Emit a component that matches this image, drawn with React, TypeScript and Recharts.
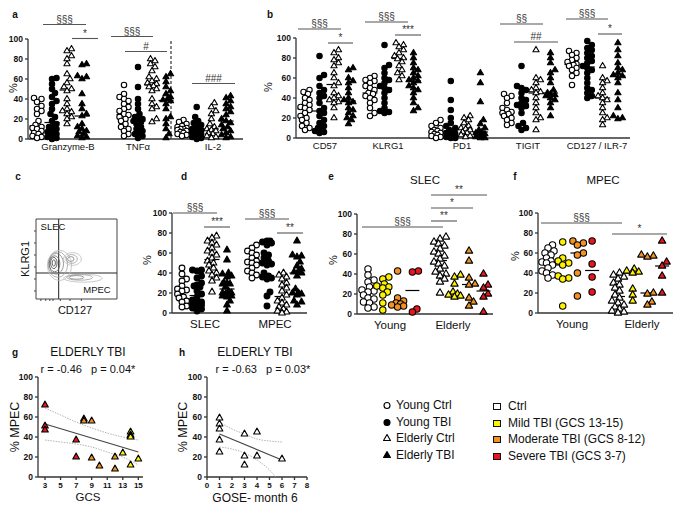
import React from "react";
import { ScatterChart, Scatter, XAxis, YAxis, ReferenceLine } from "recharts";

// ---------- panel a: Granzyme-B / TNFα / IL-2 (%), young ctrl, young TBI, elderly ctrl, elderly TBI
const gzmbYoungCtrl = [41, 40, 37, 33, 30, 28, 25, 18, 14, 12, 11, 10, 8, 6, 5, 3, 2, 1];
const gzmbYoungTbi = [61, 60, 55, 50, 46, 42, 38, 35, 30, 25, 22, 18, 15, 13, 12, 10, 8, 7, 5, 4, 3, 2, 1, 0];
const gzmbElderlyCtrl = [90, 88, 83, 80, 75, 65, 60, 56, 52, 50, 48, 40, 35, 30, 28, 27, 25, 22, 20, 15];
const gzmbElderlyTbi = [75, 74, 63, 62, 60, 45, 35, 30, 25, 23, 15, 12, 10, 8, 7, 5, 3, 2, 1];
const tnfYoungCtrl = [54, 45, 42, 40, 38, 35, 32, 30, 28, 25, 24, 22, 20, 18, 15, 12, 10, 8, 5, 3];
const tnfYoungTbi = [72, 52, 40, 35, 30, 25, 22, 20, 19, 18, 17, 15, 12, 10, 8, 6, 5, 3, 1];
const tnfElderlyCtrl = [80, 78, 75, 72, 68, 62, 60, 58, 56, 55, 53, 52, 50, 48, 40, 35, 32, 30, 20, 17];
const tnfElderlyTbi = [65, 62, 57, 52, 48, 45, 42, 40, 39, 38, 35, 30, 22, 20, 15, 10, 5, 1];
const il2YoungCtrl = [19, 17, 15, 13, 12, 11, 10, 10, 9, 8, 7, 6, 5, 4, 3];
const il2YoungTbi = [32, 22, 18, 16, 14, 12, 10, 9, 8, 7, 6, 5, 4, 3, 2, 1, 0];
const il2ElderlyCtrl = [36, 32, 28, 25, 20, 15, 12, 10, 9, 8, 6, 5, 3, 2, 1];
const il2ElderlyTbi = [43, 41, 38, 35, 32, 30, 27, 24, 20, 18, 16, 14, 12, 10, 8, 6, 4, 2, 1];

// ---------- panel b: surface markers (%)
const cd57YoungCtrl = [48, 46, 44, 40, 38, 35, 33, 31, 30, 28, 25, 22, 20, 18, 15, 12, 10, 8];
const cd57YoungTbi = [82, 63, 60, 52, 48, 45, 42, 40, 35, 30, 27, 25, 22, 18, 15, 12, 10, 8, 7, 6, 5];
const cd57ElderlyCtrl = [88, 85, 80, 78, 75, 72, 65, 60, 55, 52, 45, 42, 40, 38, 36, 35, 30, 20];
const cd57ElderlyTbi = [70, 68, 60, 57, 55, 50, 45, 40, 38, 36, 35, 30, 28, 25, 22, 20, 18, 14];
const klrg1YoungCtrl = [62, 60, 58, 57, 55, 52, 50, 48, 45, 44, 42, 40, 38, 35, 30, 25, 22];
const klrg1YoungTbi = [93, 73, 70, 65, 60, 58, 55, 52, 50, 48, 45, 40, 35, 30, 27, 26, 25];
const klrg1ElderlyCtrl = [95, 93, 91, 88, 85, 82, 80, 79, 76, 72, 68, 65, 62, 58];
const klrg1ElderlyTbi = [85, 80, 75, 70, 68, 65, 62, 60, 58, 57, 55, 52, 50, 48, 45, 40, 35, 30, 27];
const pd1YoungCtrl = [18, 15, 12, 10, 8, 7, 6, 5, 4, 3, 2, 1, 0];
const pd1YoungTbi = [57, 38, 28, 20, 15, 12, 10, 8, 6, 5, 4, 3, 2, 1, 0, 0];
const pd1ElderlyCtrl = [22, 20, 18, 15, 12, 10, 9, 8, 6, 5, 3, 2, 1];
const pd1ElderlyTbi = [65, 55, 36, 18, 14, 10, 8, 6, 5, 4, 3, 2, 1, 0, 0];
const tigitYoungCtrl = [44, 42, 40, 35, 30, 28, 26, 25, 24, 22, 20, 18, 15, 13];
const tigitYoungTbi = [72, 52, 50, 48, 45, 40, 38, 35, 33, 32, 30, 25, 15, 12, 10, 8];
const tigitElderlyCtrl = [88, 60, 58, 55, 50, 48, 46, 45, 40, 35, 30, 25, 20, 18, 8];
const tigitElderlyTbi = [85, 80, 75, 68, 65, 60, 55, 48, 45, 44, 43, 42, 40, 38, 35, 30, 22];
const cd127YoungCtrl = [87, 85, 83, 80, 78, 76, 74, 73, 72, 70, 68, 65, 62, 53];
const cd127YoungTbi = [97, 93, 90, 88, 85, 82, 80, 77, 75, 72, 70, 68, 65, 60, 55, 50, 48, 45, 42, 40];
const cd127ElderlyCtrl = [72, 60, 57, 55, 50, 45, 42, 40, 38, 35, 30, 25, 20, 18, 13];
const cd127ElderlyTbi = [95, 88, 82, 75, 70, 68, 65, 63, 62, 60, 55, 45, 38, 30, 22, 20, 19];

// ---------- panels d, e: SLEC (%)
const slecYoungCtrl = [45, 39, 34, 32, 27, 24, 23, 22, 19, 16, 15, 12, 11, 7, 6];
const slecYoungMild = [37, 35, 30, 28, 27, 26, 22, 19, 11, 4];
const slecYoungModerate = [43, 16, 13, 11, 10, 9, 8, 7];
const slecYoungSevere = [43, 42, 5, 2];
const slecElderlyCtrl = [77, 75, 72, 70, 68, 65, 62, 60, 58, 55, 52, 50, 48, 45, 42, 40, 38, 35, 32, 21];
const slecElderlyMild = [39, 37, 30, 22, 20, 19, 18, 17];
const slecElderlyModerate = [63, 53, 36, 30, 29, 16, 12, 8];
const slecElderlySevere = [40, 29, 26, 20, 17, 2];

// ---------- panels d, f: MPEC (%)
const mpecYoungCtrl = [68, 65, 62, 60, 58, 55, 52, 51, 50, 48, 45, 42, 40, 38, 35];
const mpecYoungMild = [71, 55, 52, 50, 48, 37, 35, 34, 7];
const mpecYoungModerate = [72, 70, 68, 60, 58, 40, 17];
const mpecYoungSevere = [72, 49, 36, 21];
const mpecElderlyCtrl = [40, 38, 36, 34, 30, 28, 25, 22, 18, 15, 12, 10, 8, 6, 4, 2, 1, 0];
const mpecElderlyMild = [44, 42, 41, 40, 24, 18, 12];
const mpecElderlyModerate = [58, 57, 56, 20, 19, 11, 8];
const mpecElderlySevere = [72, 51, 47, 37, 20];

// ---------- panel c: contour levels of the KLRG1 / CD127 plot (arbitrary units 0-100)
const flowGateX = 28;
const flowGateY = 32.5;
const flowContours = [
  { x: 29, y: 42, rx: 15, ry: 19, level: 1 },
  { x: 27, y: 43, rx: 12, ry: 16, level: 2 },
  { x: 25, y: 44, rx: 9, ry: 13, level: 3 },
  { x: 23, y: 44, rx: 6.5, ry: 10, level: 4 },
  { x: 22, y: 45, rx: 4, ry: 7, level: 5 },
  { x: 22, y: 45, rx: 2, ry: 4, level: 5 },
  { x: 45, y: 50, rx: 11, ry: 8, level: 1 },
  { x: 44, y: 50, rx: 7, ry: 5.5, level: 2 },
  { x: 43, y: 50, rx: 4, ry: 3, level: 3 },
  { x: 58, y: 26, rx: 24, ry: 5, level: 1 },
  { x: 54, y: 27, rx: 16, ry: 3.5, level: 2 },
  { x: 50, y: 27, rx: 9, ry: 2.2, level: 3 },
];

// ---------- panel g: elderly TBI, GCS vs %MPEC
const gcsScore = [3, 3, 3, 7, 7, 8, 8, 9, 9, 10, 12, 12, 13, 14, 14, 14, 14, 14, 15];
const gcsMpec = [72, 51, 47, 37, 20, 58, 56, 56, 19, 11, 20, 8, 24, 45, 42, 41, 40, 12, 18];
const gcsFitX = [3, 15];
const gcsFitY = [53, 25];
const gcsBandX = [3, 5, 7, 9, 11, 13, 15];
const gcsUpper = [69, 62, 55, 49, 44, 40, 37];
const gcsLower = [37, 35, 33, 30, 25, 20, 12];

// ---------- panel h: elderly TBI, GOSE month 6 vs %MPEC
const goseScore = [1, 1, 1, 1, 1, 3, 3, 3, 4, 4, 6];
const goseMpec = [59, 53, 48, 37, 25, 43, 21, 12, 45, 21, 18];
const goseFitX = [1, 6];
const goseFitY = [43, 17];
const goseUpperX = [1, 2, 3, 4, 5, 6];
const goseUpper = [55, 48, 43, 38, 36, 35];
const goseLowerX = [1, 2, 3, 4, 5, 5.5];
const goseLower = [30, 28, 24, 17, 7, 0];

const legendGroups = ["Young Ctrl", "Young TBI", "Elderly Ctrl", "Elderly TBI"];
const legendSeverity = ["Ctrl", "Mild TBI (GCS 13-15)", "Moderate TBI (GCS 8-12)", "Severe TBI (GCS 3-7)"];

const FONT = "Arial, 'Liberation Sans', Helvetica, sans-serif";
const AXIS = "#333";
const YELLOW = "#fff200";
const ORANGE = "#f39221";
const RED = "#e8161c";
const SEVERITY_FILLS = ["#ffffff", YELLOW, ORANGE, RED];

type Kind = "circle" | "triangle";
interface Column { x: number; values: number[]; kind: Kind; fill: string }
interface Sig { x1: number; x2: number; y: number; text: string }
interface Label { x: number; text: string }

const median = (v: number[]) => {
  const s = [...v].sort((a, b) => a - b);
  const m = Math.floor(s.length / 2);
  return s.length % 2 ? s[m] : (s[m - 1] + s[m]) / 2;
};

// simple beeswarm: horizontal offsets (px) so dots in one column don't pile up
function swarm(values: number[], yPx: number, dia: number, maxOff: number) {
  const order = values.map((_, i) => i).sort((a, b) => values[a] - values[b]);
  const placed: { x: number; y: number }[] = [];
  const out = new Array(values.length).fill(0);
  const cands = [0];
  for (let k = 1; k * 1.5 <= maxOff; k++) cands.push(k * 1.5, -k * 1.5);
  for (const i of order) {
    const y = values[i] * yPx;
    let best = 0;
    let bestD = -1;
    for (const c of cands) {
      const d = placed.length ? Math.min(...placed.map((p) => Math.hypot(p.x - c, p.y - y))) : Infinity;
      if (d >= dia) { best = c; break; }
      if (d > bestD) { bestD = d; best = c; }
    }
    out[i] = best;
    placed.push({ x: best, y });
  }
  return out;
}

function Marker({ cx, cy, kind, fill, r }: { cx: number; cy: number; kind: Kind; fill: string; r: number }) {
  if (kind === "circle") {
    return <circle cx={cx} cy={cy} r={r} fill={fill} stroke="#000" strokeWidth={1.1} />;
  }
  const s = r * 2.3;
  const h = s * 0.866;
  const pts = `${cx},${cy - (2 * h) / 3} ${cx + s / 2},${cy + h / 3} ${cx - s / 2},${cy + h / 3}`;
  return <polygon points={pts} fill={fill} stroke="#000" strokeWidth={1.1} strokeLinejoin="round" />;
}

const ageCols = (x0: number, step: number, sets: number[][]): Column[] => [
  { x: x0, values: sets[0], kind: "circle", fill: "#fff" },
  { x: x0 + step, values: sets[1], kind: "circle", fill: "#000" },
  { x: x0 + 2 * step, values: sets[2], kind: "triangle", fill: "#fff" },
  { x: x0 + 3 * step, values: sets[3], kind: "triangle", fill: "#000" },
];

const severityCols = (x0: number, step: number, kind: Kind, sets: number[][]): Column[] =>
  sets.map((values, i) => ({ x: x0 + i * step, values, kind, fill: SEVERITY_FILLS[i] }));

interface DotPanelProps {
  plot: [number, number, number, number];
  columns: Column[];
  labels: Label[];
  sigs: Sig[];
  r: number;
  spread: number;
  half: number;
  labelSize: number;
  labelGap: number;
  dashedX?: number;
}

function DotPanel({ plot, columns, labels, sigs, r, spread, half, labelSize, labelGap, dashedX }: DotPanelProps) {
  const [px, py, pw, ph] = plot;
  const yw = 26;
  const xh = 24;
  const margin = { left: 4, top: 40, right: 10, bottom: 4 };
  const width = pw + yw + margin.left + margin.right;
  const height = ph + margin.top + xh + margin.bottom;
  const yPx = ph / 100;
  return (
    <div style={{ position: "absolute", left: px - yw - margin.left, top: py - margin.top }}>
      <ScatterChart width={width} height={height} margin={margin}>
        <XAxis
          type="number"
          dataKey="x"
          domain={[0, pw]}
          ticks={labels.map((l) => l.x)}
          interval={0}
          tickFormatter={(v: number) => labels.find((l) => l.x === v)?.text ?? ""}
          tickLine={false}
          tickSize={0}
          tickMargin={labelGap}
          height={xh}
          axisLine={{ stroke: AXIS, strokeWidth: 1.3 }}
          tick={{ fontSize: labelSize, fill: "#111", fontFamily: FONT }}
        />
        <YAxis
          type="number"
          dataKey="y"
          domain={[0, 100]}
          ticks={[0, 20, 40, 60, 80, 100]}
          interval={0}
          width={yw}
          tickSize={3}
          tickMargin={2}
          axisLine={{ stroke: AXIS, strokeWidth: 1.3 }}
          tickLine={{ stroke: AXIS, strokeWidth: 1.3 }}
          tick={{ fontSize: 8.5, fontWeight: 700, fill: "#111", fontFamily: FONT }}
        />
        {dashedX !== undefined && (
          <ReferenceLine x={dashedX} stroke="#333" strokeWidth={1.2} strokeDasharray="3 2" />
        )}
        {columns.map((c, i) => {
          const off = swarm(c.values, yPx, r * 1.6, spread);
          const data = c.values.map((v, j) => ({ x: c.x + off[j], y: v }));
          return (
            <Scatter
              key={`c${i}`}
              data={data}
              isAnimationActive={false}
              shape={(p: any) => <Marker cx={p.cx} cy={p.cy} kind={c.kind} fill={c.fill} r={r} />}
            />
          );
        })}
        {columns.map((c, i) => {
          const m = median(c.values);
          return (
            <ReferenceLine
              key={`m${i}`}
              segment={[{ x: c.x - half, y: m }, { x: c.x + half, y: m }]}
              stroke="#000"
              strokeWidth={1.2}
              ifOverflow="visible"
            />
          );
        })}
        {sigs.map((s, i) => (
          <ReferenceLine
            key={`s${i}`}
            segment={[{ x: s.x1, y: s.y }, { x: s.x2, y: s.y }]}
            stroke="#555"
            strokeWidth={1.1}
            ifOverflow="visible"
            label={{ value: s.text, position: "top", offset: 2, fontSize: 10, fill: "#333", fontFamily: FONT }}
          />
        ))}
      </ScatterChart>
    </div>
  );
}

function FlowPanel() {
  const [px, py, pw, ph] = [36, 219, 81, 80];
  const margin = { left: 4, top: 4, right: 4, bottom: 2 };
  const yw = 6;
  const xh = 6;
  const kx = pw / 100;
  const ky = ph / 100;
  const strokes = ["#bdbdbd", "#a0a0a0", "#808080", "#606060", "#444"];
  return (
    <div style={{ position: "absolute", left: px - yw - margin.left, top: py - margin.top }}>
      <ScatterChart width={pw + yw + margin.left + margin.right} height={ph + xh + margin.top + margin.bottom} margin={margin}>
        <XAxis type="number" dataKey="x" domain={[0, 100]} ticks={[6, 12, 17, 21, 30, 42, 56]} interval={0}
          tickFormatter={() => ""} tickSize={2} height={xh}
          axisLine={{ stroke: "#444", strokeWidth: 1 }} tickLine={{ stroke: "#444", strokeWidth: 1 }} />
        <YAxis type="number" dataKey="y" domain={[0, 100]} ticks={[10, 25, 40, 55, 70, 85]} interval={0}
          tickFormatter={() => ""} tickSize={2} width={yw}
          axisLine={{ stroke: "#444", strokeWidth: 1 }} tickLine={{ stroke: "#444", strokeWidth: 1 }} />
        <ReferenceLine x={100} stroke="#444" strokeWidth={1} />
        <ReferenceLine y={100} stroke="#444" strokeWidth={1} />
        <Scatter
          data={flowContours}
          isAnimationActive={false}
          shape={(p: any) => (
            <ellipse cx={p.cx} cy={p.cy} rx={p.payload.rx * kx} ry={p.payload.ry * ky}
              fill="none" stroke={strokes[p.payload.level - 1]} strokeWidth={0.8} />
          )}
        />
        <ReferenceLine x={flowGateX} stroke="#222" strokeWidth={1} />
        <ReferenceLine y={flowGateY} stroke="#222" strokeWidth={1} />
      </ScatterChart>
    </div>
  );
}

interface CorrProps {
  plot: [number, number, number, number];
  xDomain: [number, number];
  xTicks: number[];
  xs: number[];
  ys: number[];
  fills: string[];
  fitX: number[];
  fitY: number[];
  upperX: number[];
  upper: number[];
  lowerX: number[];
  lower: number[];
}

function CorrPanel({ plot, xDomain, xTicks, xs, ys, fills, fitX, fitY, upperX, upper, lowerX, lower }: CorrProps) {
  const [px, py, pw, ph] = plot;
  const yw = 26;
  const xh = 16;
  const margin = { left: 4, top: 10, right: 10, bottom: 4 };
  const pts = xs.map((x, i) => ({ x, y: ys[i], fill: fills[i] }));
  const fit = fitX.map((x, i) => ({ x, y: fitY[i] }));
  const up = upperX.map((x, i) => ({ x, y: upper[i] }));
  const lo = lowerX.map((x, i) => ({ x, y: lower[i] }));
  const none = () => <g />;
  return (
    <div style={{ position: "absolute", left: px - yw - margin.left, top: py - margin.top }}>
      <ScatterChart width={pw + yw + margin.left + margin.right} height={ph + xh + margin.top + margin.bottom} margin={margin}>
        <XAxis type="number" dataKey="x" domain={xDomain} ticks={xTicks} interval={0} tickSize={3} tickMargin={2}
          height={xh} axisLine={{ stroke: AXIS, strokeWidth: 1.3 }} tickLine={{ stroke: AXIS, strokeWidth: 1.3 }}
          tick={{ fontSize: 8, fontWeight: 700, fill: "#111", fontFamily: FONT }} />
        <YAxis type="number" dataKey="y" domain={[0, 100]} ticks={[0, 20, 40, 60, 80, 100]} interval={0} width={yw}
          tickSize={3} tickMargin={2} axisLine={{ stroke: AXIS, strokeWidth: 1.3 }} tickLine={{ stroke: AXIS, strokeWidth: 1.3 }}
          tick={{ fontSize: 8.5, fontWeight: 700, fill: "#111", fontFamily: FONT }} />
        <Scatter data={up} isAnimationActive={false} line={{ stroke: "#aaa", strokeWidth: 0.9, strokeDasharray: "1.5 1.2" }}
          lineJointType="monotoneX" shape={none} />
        <Scatter data={lo} isAnimationActive={false} line={{ stroke: "#aaa", strokeWidth: 0.9, strokeDasharray: "1.5 1.2" }}
          lineJointType="monotoneX" shape={none} />
        <Scatter data={fit} isAnimationActive={false} line={{ stroke: "#444", strokeWidth: 1.1 }} shape={none} />
        <Scatter data={pts} isAnimationActive={false}
          shape={(p: any) => <Marker cx={p.cx} cy={p.cy} kind="triangle" fill={p.payload.fill} r={2.9} />} />
      </ScatterChart>
    </div>
  );
}

function Txt({ x, y, size, bold, rotate, anchor, children }: {
  x: number; y: number; size: number; bold?: boolean; rotate?: number; anchor?: "start"; children: React.ReactNode;
}) {
  const tx = anchor === "start" ? "0" : "-50%";
  return (
    <div
      style={{
        position: "absolute", left: x, top: y, fontSize: size, fontWeight: bold ? 700 : 400,
        lineHeight: 1, whiteSpace: "pre",
        transform: `translate(${tx}, -50%)${rotate ? ` rotate(${rotate}deg)` : ""}`,
      }}
    >
      {children}
    </div>
  );
}

const gcsFill = (g: number) => (g <= 7 ? RED : g <= 12 ? ORANGE : YELLOW);

export default function App() {
  const panelA = [
    ...ageCols(9, 15, [gzmbYoungCtrl, gzmbYoungTbi, gzmbElderlyCtrl, gzmbElderlyTbi]),
    ...ageCols(96, 14, [tnfYoungCtrl, tnfYoungTbi, tnfElderlyCtrl, tnfElderlyTbi]),
    ...ageCols(154, 14.7, [il2YoungCtrl, il2YoungTbi, il2ElderlyCtrl, il2ElderlyTbi]),
  ];
  const panelB = [
    ...ageCols(9, 14.5, [cd57YoungCtrl, cd57YoungTbi, cd57ElderlyCtrl, cd57ElderlyTbi]),
    ...ageCols(74, 14.5, [klrg1YoungCtrl, klrg1YoungTbi, klrg1ElderlyCtrl, klrg1ElderlyTbi]),
    ...ageCols(140, 14.8, [pd1YoungCtrl, pd1YoungTbi, pd1ElderlyCtrl, pd1ElderlyTbi]),
    ...ageCols(211, 14.5, [tigitYoungCtrl, tigitYoungTbi, tigitElderlyCtrl, tigitElderlyTbi]),
    ...ageCols(276, 15.3, [cd127YoungCtrl, cd127YoungTbi, cd127ElderlyCtrl, cd127ElderlyTbi]),
  ];
  const panelD = [
    ...ageCols(10, 15, [
      slecYoungCtrl,
      [...slecYoungMild, ...slecYoungModerate, ...slecYoungSevere],
      slecElderlyCtrl,
      [...slecElderlyMild, ...slecElderlyModerate, ...slecElderlySevere],
    ]),
    ...ageCols(80, 15, [
      mpecYoungCtrl,
      [...mpecYoungMild, ...mpecYoungModerate, ...mpecYoungSevere],
      mpecElderlyCtrl,
      [...mpecElderlyMild, ...mpecElderlyModerate, ...mpecElderlySevere],
    ]),
  ];
  const panelE = [
    ...severityCols(11, 14.8, "circle", [slecYoungCtrl, slecYoungMild, slecYoungModerate, slecYoungSevere]),
    ...severityCols(83, 14.5, "triangle", [slecElderlyCtrl, slecElderlyMild, slecElderlyModerate, slecElderlySevere]),
  ];
  const panelF = [
    ...severityCols(10, 14.7, "circle", [mpecYoungCtrl, mpecYoungMild, mpecYoungModerate, mpecYoungSevere]),
    ...severityCols(80, 14.7, "triangle", [mpecElderlyCtrl, mpecElderlyMild, mpecElderlyModerate, mpecElderlySevere]),
  ];

  return (
    <div
      style={{
        position: "absolute", left: 0, top: 0, width: 685, height: 513, background: "#fff",
        fontFamily: FONT, color: "#111", overflow: "hidden",
      }}
    >
      <DotPanel
        plot={[28, 38.5, 215, 100]}
        columns={panelA}
        labels={[{ x: 40, text: "Granzyme-B" }, { x: 110, text: "TNFα" }, { x: 185, text: "IL-2" }]}
        sigs={[
          { x1: 15, x2: 58, y: 114.5, text: "§§§" },
          { x1: 44, x2: 70, y: 100.5, text: "*" },
          { x1: 83, x2: 125, y: 102.5, text: "§§§" },
          { x1: 97, x2: 139, y: 87.5, text: "#" },
          { x1: 164, x2: 207, y: 55.5, text: "###" },
        ]}
        r={2.7}
        spread={5.5}
        half={7.5}
        labelSize={9.5}
        labelGap={4}
        dashedX={143}
      />
      <DotPanel
        plot={[296, 38, 334, 100]}
        columns={panelB}
        labels={[
          { x: 29, text: "CD57" }, { x: 92, text: "KLRG1" }, { x: 166, text: "PD1" },
          { x: 232, text: "TIGIT" }, { x: 301, text: "CD127 / ILR-7" },
        ]}
        sigs={[
          { x1: 2, x2: 45, y: 109, text: "§§§" },
          { x1: 32, x2: 57, y: 95, text: "*" },
          { x1: 69, x2: 112, y: 116, text: "§§§" },
          { x1: 99, x2: 125, y: 103, text: "***" },
          { x1: 204, x2: 247, y: 114, text: "§§" },
          { x1: 218, x2: 262, y: 96, text: "##" },
          { x1: 270, x2: 312, y: 119, text: "§§§" },
          { x1: 302, x2: 326, y: 104, text: "*" },
        ]}
        r={2.7}
        spread={5.5}
        half={7.5}
        labelSize={9.5}
        labelGap={4}
      />
      <FlowPanel />
      <DotPanel
        plot={[172, 213, 135, 100]}
        columns={panelD}
        labels={[{ x: 33, text: "SLEC" }, { x: 103, text: "MPEC" }]}
        sigs={[
          { x1: 1, x2: 45, y: 100, text: "§§§" },
          { x1: 32, x2: 58, y: 86, text: "***" },
          { x1: 73, x2: 117, y: 94, text: "§§§" },
          { x1: 105, x2: 131, y: 80, text: "**" },
        ]}
        r={2.9}
        spread={5.5}
        half={7.5}
        labelSize={11.5}
        labelGap={7}
      />
      <DotPanel
        plot={[357, 214, 136, 100]}
        columns={panelE}
        labels={[{ x: 33, text: "Young" }, { x: 96, text: "Elderly" }]}
        sigs={[
          { x1: 5, x2: 86, y: 87, text: "§§§" },
          { x1: 74, x2: 100, y: 93, text: "**" },
          { x1: 74, x2: 116, y: 106, text: "*" },
          { x1: 74, x2: 130, y: 119, text: "**" },
        ]}
        r={3.2}
        spread={6}
        half={7}
        labelSize={11.5}
        labelGap={7}
      />
      <DotPanel
        plot={[538, 213, 135, 100]}
        columns={panelF}
        labels={[{ x: 34, text: "Young" }, { x: 104, text: "Elderly" }]}
        sigs={[
          { x1: 3, x2: 84, y: 90, text: "§§§" },
          { x1: 74, x2: 129, y: 79, text: "*" },
        ]}
        r={3.2}
        spread={6}
        half={7}
        labelSize={11.5}
        labelGap={7}
      />
      <CorrPanel
        plot={[38, 377, 105, 100]}
        xDomain={[2.1, 15.6]}
        xTicks={[3, 5, 7, 9, 11, 13, 15]}
        xs={gcsScore}
        ys={gcsMpec}
        fills={gcsScore.map(gcsFill)}
        fitX={gcsFitX}
        fitY={gcsFitY}
        upperX={gcsBandX}
        upper={gcsUpper}
        lowerX={gcsBandX}
        lower={gcsLower}
      />
      <CorrPanel
        plot={[207, 377, 100, 100]}
        xDomain={[0, 8]}
        xTicks={[0, 1, 2, 3, 4, 5, 6, 7, 8]}
        xs={goseScore}
        ys={goseMpec}
        fills={goseScore.map(() => "#fff")}
        fitX={goseFitX}
        fitY={goseFitY}
        upperX={goseUpperX}
        upper={goseUpper}
        lowerX={goseLowerX}
        lower={goseLower}
      />

      {/* panel letters */}
      <Txt x={15} y={15} size={10} bold>a</Txt>
      <Txt x={270} y={15} size={10} bold>b</Txt>
      <Txt x={18} y={177} size={10} bold>c</Txt>
      <Txt x={184} y={177} size={10} bold>d</Txt>
      <Txt x={331} y={177} size={10} bold>e</Txt>
      <Txt x={515} y={177} size={10} bold>f</Txt>
      <Txt x={15} y={353} size={10} bold>g</Txt>
      <Txt x={182} y={353} size={10} bold>h</Txt>

      {/* y-axis titles */}
      <Txt x={13} y={88} size={11} rotate={-90}>%</Txt>
      <Txt x={268} y={87} size={11} rotate={-90}>%</Txt>
      <Txt x={147} y={260} size={11} rotate={-90}>%</Txt>
      <Txt x={333} y={260} size={11} rotate={-90}>%</Txt>
      <Txt x={515} y={256} size={11} rotate={-90}>%</Txt>

      {/* panel titles */}
      <Txt x={425} y={181} size={11.5}>SLEC</Txt>
      <Txt x={603} y={181} size={11.5}>MPEC</Txt>

      {/* panel c text */}
      <Txt x={25} y={259} size={11} rotate={-90}>KLRG1</Txt>
      <Txt x={75} y={310} size={11}>CD127</Txt>
      <Txt x={53} y={227} size={9.5}>SLEC</Txt>
      <Txt x={97} y={290} size={9.5}>MPEC</Txt>

      {/* panels g and h text */}
      <Txt x={88} y={352} size={12}>ELDERLY TBI</Txt>
      <Txt x={255} y={352} size={12}>ELDERLY TBI</Txt>
      <Txt x={88} y={369} size={11}>{"r = -0.46   p = 0.04*"}</Txt>
      <Txt x={263} y={369} size={11}>{"r = -0.63   p = 0.03*"}</Txt>
      <Txt x={15} y={427} size={12.5} rotate={-90}>% MPEC</Txt>
      <Txt x={183} y={427} size={12.5} rotate={-90}>% MPEC</Txt>
      <Txt x={88} y={498} size={11.5}>GCS</Txt>
      <Txt x={255} y={498} size={12}>GOSE- month 6</Txt>

      {/* legends */}
      {legendGroups.map((name, i) => (
        <React.Fragment key={name}>
          <svg style={{ position: "absolute", left: 381, top: 399 + i * 16.5 }} width={12} height={12}>
            <Marker cx={6} cy={6.5} kind={i < 2 ? "circle" : "triangle"} fill={i % 2 ? "#000" : "#fff"} r={3} />
          </svg>
          <Txt x={396} y={405 + i * 16.5} size={12} anchor="start">{name}</Txt>
        </React.Fragment>
      ))}
      {legendSeverity.map((name, i) => (
        <React.Fragment key={name}>
          <div
            style={{
              position: "absolute", left: 493, top: 403 + i * 16.6, width: 6, height: 5,
              background: SEVERITY_FILLS[i], border: "1.5px solid #111",
            }}
          />
          <Txt x={508} y={406 + i * 16.6} size={12} anchor="start">{name}</Txt>
        </React.Fragment>
      ))}
    </div>
  );
}
